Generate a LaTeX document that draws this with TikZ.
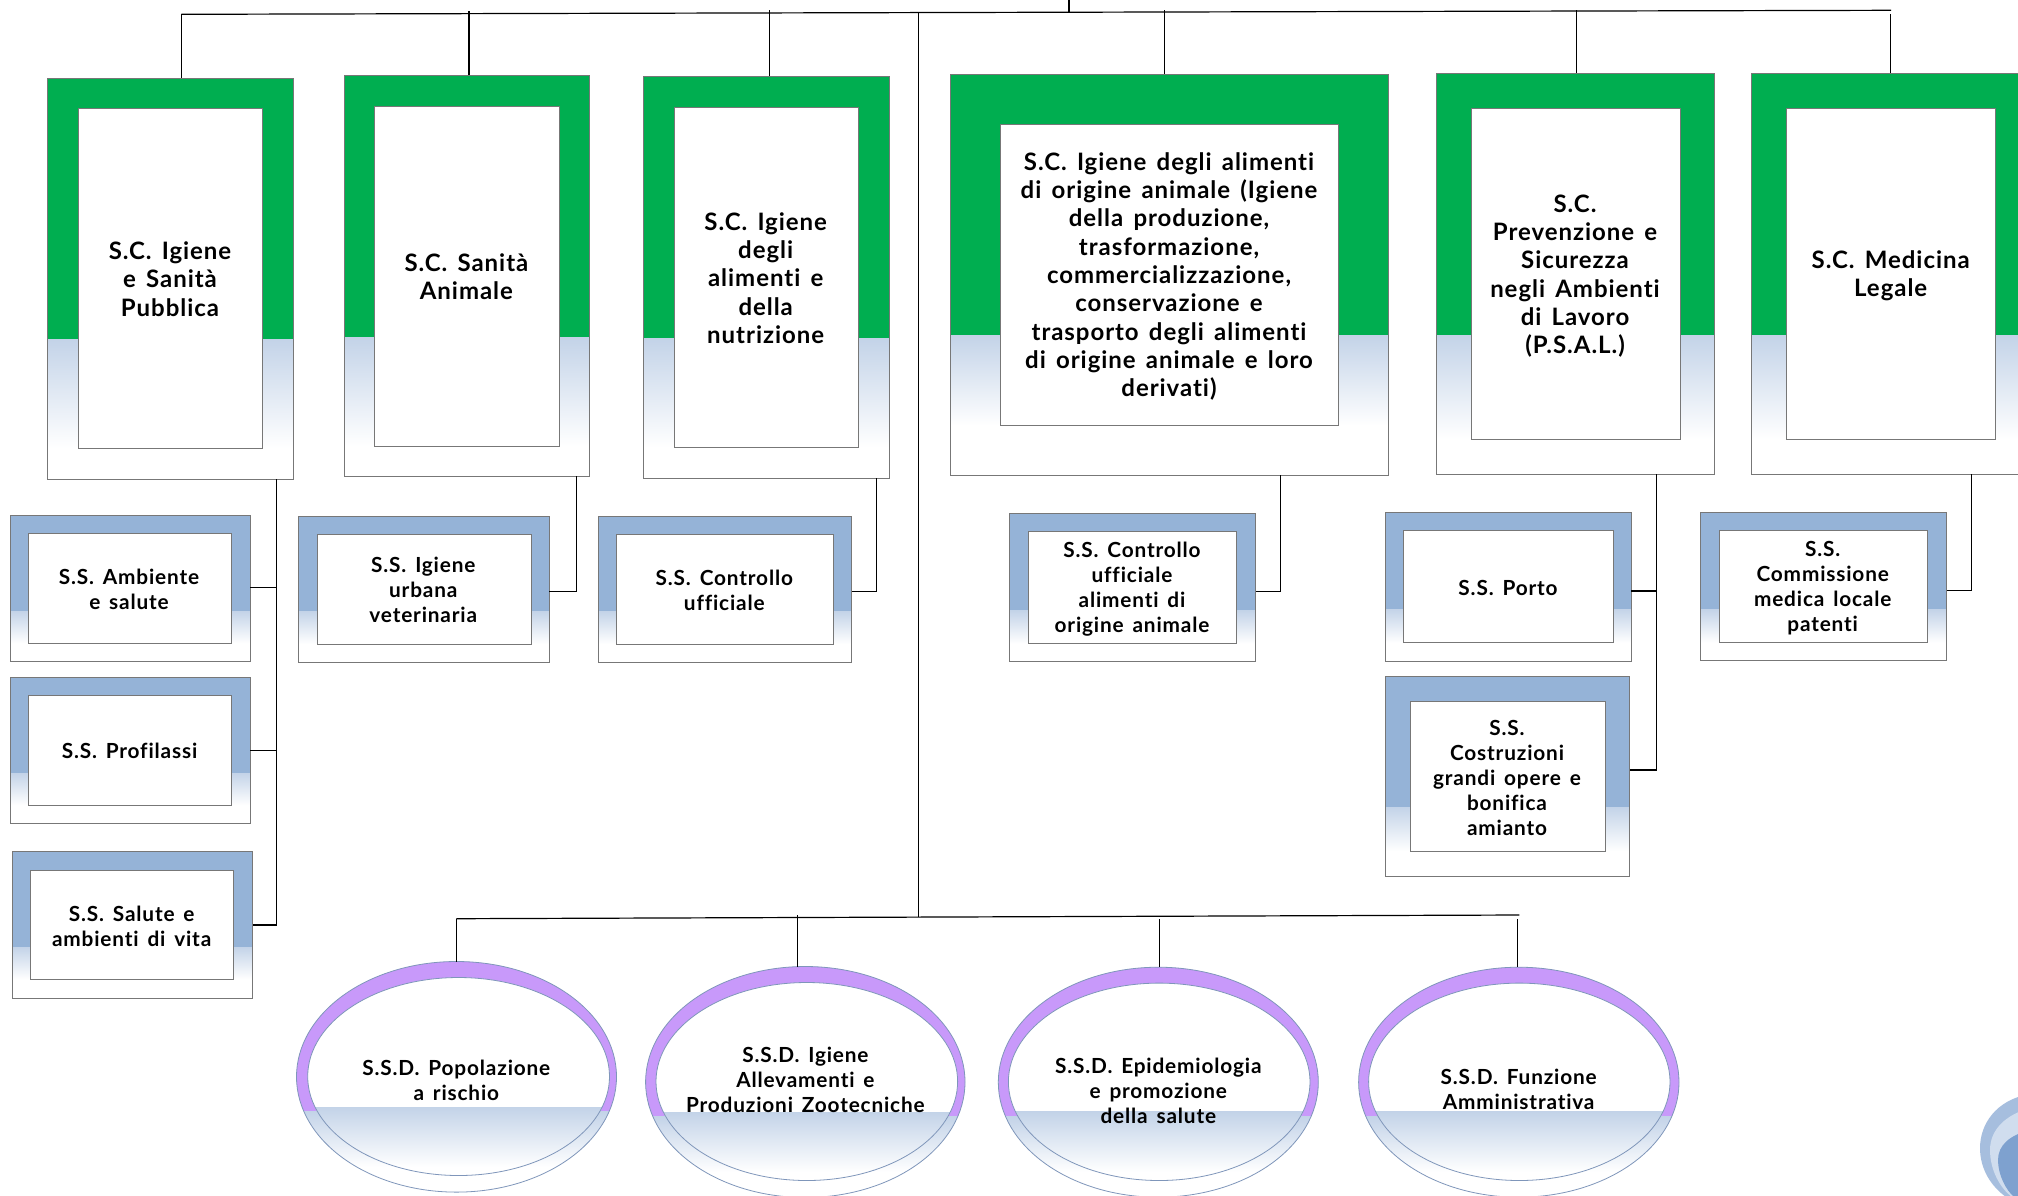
\documentclass[tikz,border=0pt]{standalone}
\usepackage{fontspec}
\setmainfont{Lato}[LetterSpace=4,WordSpace=1.5,Ligatures=NoCommon]
\usetikzlibrary{fit,shapes.geometric}
\definecolor{scgreen}{HTML}{00AE50}
\definecolor{ssblue}{HTML}{95B3D7}
\definecolor{ssdpurple}{HTML}{C899FA}
\definecolor{gradtop}{HTML}{C3D3E8}
\definecolor{edgegray}{HTML}{777777}
\definecolor{elledge}{HTML}{7F96BA}
\definecolor{logoA}{HTML}{A6BEDE}
\definecolor{logoB}{HTML}{D0DDEE}
\definecolor{logoC}{HTML}{7EA1CF}
\tikzset{
  outerbox/.style={draw=edgegray,line width=0.8pt,inner sep=0pt,outer sep=0pt,fill=none},
  innerbox/.style={draw=edgegray,line width=0.8pt,inner sep=0pt,outer sep=0pt,fill=white},
  scfont/.style={align=center,inner sep=0pt,yshift=-1pt,font=\fontsize{24}{28.3}\selectfont\bfseries},
  ssfont/.style={align=center,inner sep=0pt,yshift=-1pt,font=\fontsize{20.8}{25}\selectfont\bfseries},
  link/.style={draw=black,line width=1.2pt},
  ellbox/.style={ellipse,draw=elledge,line width=0.8pt,inner sep=0pt,outer sep=0pt},
  ell/.cd,
  cx/.store in=\ecx, cy/.store in=\ecy, rx/.store in=\erx, ry/.store in=\ery,
  icx/.store in=\eicx, icy/.store in=\eicy, irx/.store in=\eirx, iry/.store in=\eiry,
  sin/.store in=\esin, sout/.store in=\esout
}
% name, colour, outer NW, outer SE, inner NW, inner SE, split y
\newcommand\orgbox[7]{%
  \coordinate (#1-a) at #3;
  \coordinate (#1-b) at #4;
  \coordinate (#1-c) at #5;
  \coordinate (#1-d) at #6;
  \fill[#2] (#1-a) rectangle (#1-b |- 0,#7);
  \shade[top color=gradtop,bottom color=white] (#1-a |- 0,#7) rectangle (#1-b |- #1-d);
  \node[outerbox,fit=(#1-a)(#1-b)] (#1) {};
  \node[innerbox,fit=(#1-c)(#1-d)] (#1i) {};
}
\newcommand\orgell[2]{%
  \tikzset{ell/.cd,#2}%
  \pgfmathsetmacro\exa{\ecx-200}\pgfmathsetmacro\exb{\ecx+200}%
  \pgfmathsetmacro\eya{\ecy-200}\pgfmathsetmacro\eyb{\ecy+200}%
  \pgfmathsetmacro\egb{\esin+60}%
  \begin{scope}
    \clip (\ecx,\ecy) ellipse [x radius=\erx,y radius=\ery];
    \fill[ssdpurple] (\exa,\eya) rectangle (\exb,\esout);
    \shade[top color=gradtop,bottom color=white] (\exa,\esout) rectangle (\exb,\egb);
  \end{scope}
  \begin{scope}
    \clip (\eicx,\eicy) ellipse [x radius=\eirx,y radius=\eiry];
    \fill[white] (\exa,\eya) rectangle (\exb,\eyb);
    \shade[top color=gradtop,bottom color=white] (\exa,\esin) rectangle (\exb,\egb);
  \end{scope}
  \pgfmathsetmacro\eow{2*\erx}\pgfmathsetmacro\eoh{2*\ery}%
  \pgfmathsetmacro\eiw{2*\eirx}\pgfmathsetmacro\eih{2*\eiry}%
  \node[ellbox,minimum width=\eow pt,minimum height=\eoh pt] (#1) at (\ecx,\ecy) {};
  \node[ellbox,minimum width=\eiw pt,minimum height=\eih pt] (#1i) at (\eicx,\eicy) {};
}
\begin{document}
\begin{tikzpicture}[x=1pt,y=-1pt]
\useasboundingbox (0,0) rectangle (2018,1195);
\clip (0,0) rectangle (2018,1195);
\fill[white] (0,0) rectangle (2018,1195);

% logo corner
\fill[logoA] (2030,1094) .. controls (1995,1100) and (1980,1125) .. (1980,1148) .. controls (1980,1170) and (1992,1187) .. (2006,1197) -- (2030,1197) -- cycle;
\fill[logoB] (2030,1108) .. controls (2005,1115) and (1990,1130) .. (1990,1150) .. controls (1990,1170) and (2000,1188) .. (2012,1197) -- (2030,1197) -- cycle;
\fill[logoC] (2030,1130) .. controls (2010,1135) and (1998,1145) .. (1998,1160) .. controls (1998,1175) and (2006,1190) .. (2014,1197) -- (2030,1197) -- cycle;

% S.C. boxes
\orgbox{b1}{scgreen}{(47.5,78)}{(293.5,479)}{(78,108.5)}{(262.5,448)}{339}
\orgbox{b2}{scgreen}{(344,75)}{(589,476)}{(374,106.5)}{(559,446)}{337}
\orgbox{b3}{scgreen}{(643.3,76.3)}{(889,478)}{(674,107.5)}{(858.3,447.5)}{338.3}
\orgbox{b4}{scgreen}{(950,74)}{(1388.7,475)}{(1000.3,124.5)}{(1338.3,425.5)}{335.5}
\orgbox{b5}{scgreen}{(1436,73)}{(1714.7,474)}{(1471.3,108)}{(1680,439)}{335}
\orgbox{b6}{scgreen}{(1751.3,73)}{(2030,474)}{(1786.7,108)}{(1995.3,439)}{335}

% S.S. boxes
\orgbox{sa}{ssblue}{(10,515.3)}{(250,661.7)}{(28.3,533.3)}{(231.7,643.3)}{611}
\orgbox{sb}{ssblue}{(10,677.3)}{(250,823.7)}{(28.3,695.3)}{(231.7,805.3)}{773}
\orgbox{sc}{ssblue}{(12,851.7)}{(252.5,998.7)}{(30.3,870)}{(233.7,979.3)}{947}
\orgbox{sd}{ssblue}{(298.3,516.3)}{(549.3,662.3)}{(317,534.3)}{(531.3,644)}{611}
\orgbox{se}{ssblue}{(598.3,516.3)}{(851.7,662.3)}{(616.3,534.3)}{(833.3,644)}{611}
\orgbox{sf}{ssblue}{(1009.3,513.3)}{(1255.7,661.3)}{(1028.3,531.7)}{(1236.7,643.7)}{610.3}
\orgbox{sg}{ssblue}{(1385.3,512.3)}{(1631,661.3)}{(1403.3,530.7)}{(1613,642.7)}{609}
\orgbox{sh}{ssblue}{(1385.3,676.3)}{(1629.5,876)}{(1410.3,701.3)}{(1605,851.3)}{807}
\orgbox{si}{ssblue}{(1700,512.5)}{(1946.7,660.7)}{(1719.3,530.4)}{(1927.7,642.4)}{609.4}

% S.S.D. ellipses
\orgell{e1}{cx=456.5,cy=1076.8,rx=160,ry=115.3,icx=458.6,icy=1076.5,irx=150.9,iry=99,sin=1107,sout=1111}
\orgell{e2}{cx=805.3,cy=1082,rx=159.7,ry=115.5,icx=806.8,icy=1081.5,irx=150.8,iry=99,sin=1112,sout=1116}
\orgell{e3}{cx=1158.3,cy=1082.2,rx=160,ry=115,icx=1159.2,icy=1081.8,irx=150.8,iry=98.7,sin=1111.7,sout=1116.7}
\orgell{e4}{cx=1518.8,cy=1082.2,rx=160.2,ry=115,icx=1519.3,icy=1081.8,irx=150.7,iry=98.7,sin=1111.7,sout=1116.7}

% labels
\node[scfont] (t1) at (170,278) {S.C. Igiene\\e Sanità\\Pubblica};
\node[scfont] (t2) at (466.4,276) {S.C. Sanità\\Animale};
\node[scfont] (t3) at (765.7,277) {S.C. Igiene\\degli\\alimenti e\\della\\nutrizione};
\node[scfont] (t4) at (1169,275.5) {S.C. Igiene degli alimenti\\di origine animale (Igiene\\della produzione,\\trasformazione,\\commercializzazione,\\conservazione e\\trasporto degli alimenti\\di origine animale e loro\\derivati)};
\node[scfont] (t5) at (1575,275) {S.C.\\Prevenzione e\\Sicurezza\\negli Ambienti\\di Lavoro\\(P.S.A.L.)};
\node[scfont] (t6) at (1890.7,275) {S.C. Medicina\\Legale};
\node[ssfont] (ta) at (129,588.7) {S.S. Ambiente\\e salute};
\node[ssfont] (tb) at (129.5,750) {S.S. Profilassi};
\node[ssfont] (tc) at (131.7,925.7) {S.S. Salute e\\ambienti di vita};
\node[ssfont] (td) at (423.3,589.3) {S.S. Igiene\\urbana\\veterinaria};
\node[ssfont] (te) at (724.3,589) {S.S. Controllo\\ufficiale};
\node[ssfont] (tf) at (1132,587.7) {S.S. Controllo\\ufficiale\\alimenti di\\origine animale};
\node[ssfont] (tg) at (1508,587) {S.S. Porto};
\node[ssfont] (th) at (1507,776.7) {S.S.\\Costruzioni\\grandi opere e\\bonifica\\amianto};
\node[ssfont] (ti) at (1822.7,587.6) {S.S.\\Commissione\\medica locale\\patenti};
\node[ssfont] (te1) at (456.3,1079.7) {S.S.D. Popolazione\\a rischio};
\node[ssfont] (te2) at (805.4,1079) {S.S.D. Igiene\\Allevamenti e\\Produzioni Zootecniche};
\node[ssfont] (te3) at (1158.3,1090) {S.S.D. Epidemiologia\\e promozione\\della salute};
\node[ssfont] (te4) at (1518.7,1088) {S.S.D. Funzione\\Amministrativa};

% top bus
\coordinate (root) at (1069,0);
\coordinate (busTL) at (181.4,14.3);
\coordinate (busTR) at (1891,10.3);
\coordinate (rootj) at (1069,12);
\draw[link] (busTL) -- (busTR);
\draw[link] (root) -- (rootj);
\coordinate (d2) at (469,11);
\coordinate (d3) at (769.3,10);
\coordinate (d4) at (1164.3,10);
\coordinate (d5) at (1576.3,10);
\coordinate (d6) at (1890.3,14);
\draw[link] (busTL) -- (busTL |- b1.north);
\draw[link] (d2) -- (d2 |- b2.north);
\draw[link] (d3) -- (d3 |- b3.north);
\draw[link] (d4) -- (d4 |- b4.north);
\draw[link] (d5) -- (d5 |- b5.north);
\draw[link] (d6) -- (d6 |- b6.north);

% bottom bus
\coordinate (main) at (918.3,13);
\coordinate (busBL) at (456.3,918.7);
\coordinate (busBR) at (1519.3,915);
\coordinate (mainj) at (918.3,917);
\draw[link] (main) -- (mainj);
\draw[link] (busBL) -- (busBR);
\coordinate (f2) at (797.4,915);
\coordinate (f3) at (1159.3,919);
\coordinate (f4) at (1517.3,919);
\draw[link] (busBL) -- (busBL |- e1.north);
\draw[link] (f2) -- (f2 |- e2.north);
\draw[link] (f3) -- (f3 |- e3.north);
\draw[link] (f4) -- (f4 |- e4.north);

% branches
\coordinate (v1) at (276.3,925);
\coordinate (ya) at (0,587.3);
\coordinate (yb) at (0,750.3);
\draw[link] (v1 |- b1.south) -- (v1) -- (sc.east |- v1);
\draw[link] (sa.east |- ya) -- (v1 |- ya);
\draw[link] (sb.east |- yb) -- (v1 |- yb);
\coordinate (v2) at (576.7,591.3);
\draw[link] (v2 |- b2.south) -- (v2) -- (sd.east |- v2);
\coordinate (v3) at (876.7,591.3);
\draw[link] (v3 |- b3.south) -- (v3) -- (se.east |- v3);
\coordinate (v4) at (1280.3,591.3);
\draw[link] (v4 |- b4.south) -- (v4) -- (sf.east |- v4);
\coordinate (v5) at (1656.3,770);
\coordinate (yg) at (0,591);
\draw[link] (v5 |- b5.south) -- (v5) -- (sh.east |- v5);
\draw[link] (sg.east |- yg) -- (v5 |- yg);
\coordinate (v6) at (1971.3,590.6);
\draw[link] (v6 |- b6.south) -- (v6) -- (si.east |- v6);
\end{tikzpicture}
\end{document}
